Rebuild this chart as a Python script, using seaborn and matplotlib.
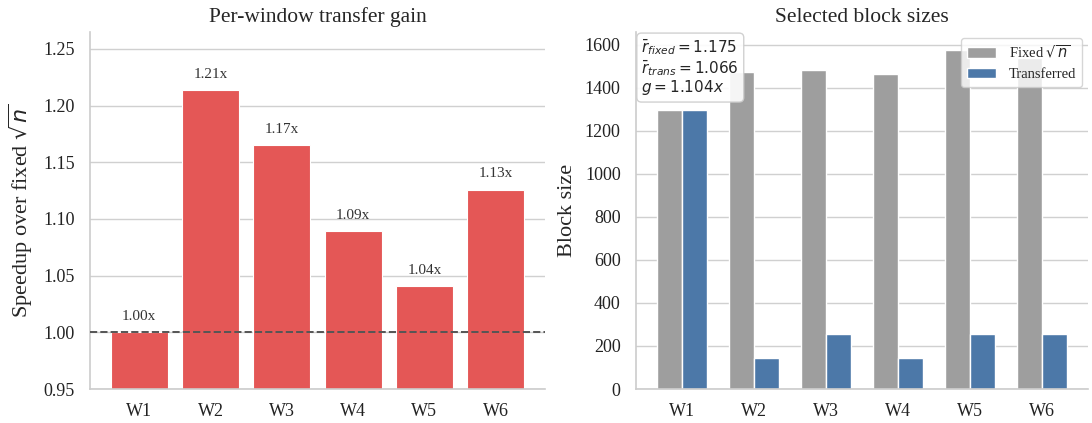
import numpy as np
import pandas as pd
import matplotlib
matplotlib.use("Agg")
import matplotlib.pyplot as plt
import seaborn as sns

# ---- data ----
windows = ["W1", "W2", "W3", "W4", "W5", "W6"]
speedup = [1.000, 1.214, 1.165, 1.089, 1.041, 1.126]
fixed_sizes = [1298, 1474, 1482, 1466, 1578, 1540]
transferred_sizes = [1298, 144, 256, 144, 256, 256]
series_names = ["Fixed $\\sqrt{n}$", "Transferred"]
stats_text = "$\\bar{r}_{fixed} = 1.175$\n$\\bar{r}_{trans} = 1.066$\n$g = 1.104x$"

RED = "#E45756"
GRAY = "#9E9E9E"
BLUE = "#4C78A8"

sns.set_theme(style="whitegrid")
plt.rcParams["font.family"] = ["Liberation Serif", "DejaVu Serif"]
plt.rcParams["mathtext.fontset"] = "dejavusans"
plt.rcParams["axes.edgecolor"] = "#cccccc"
plt.rcParams["grid.color"] = "#d0d0d0"

W, H = 1092, 423
fig = plt.figure(figsize=(W / 100, H / 100), dpi=100)
ax1 = fig.add_axes([90 / W, (H - 389) / H, 455 / W, 357 / H])
ax2 = fig.add_axes([636 / W, (H - 389) / H, 452 / W, 357 / H])

# ---- left panel ----
df1 = pd.DataFrame({"window": windows, "speedup": speedup})
sns.barplot(data=df1, x="window", y="speedup", color=RED, saturation=1,
            width=0.8, edgecolor="white", linewidth=0.8, ax=ax1)
ax1.axhline(1.0, color="#555555", linestyle="--", linewidth=1.4, zorder=3)
for i, v in enumerate(speedup):
    ax1.text(i, v + 0.008, f"{v:.2f}x", ha="center", va="bottom",
             fontsize=11, color="#333333")
ax1.set_ylim(0.95, 1.265)
ax1.set_xlim(-0.69, 5.69)
ax1.set_yticks(np.arange(0.95, 1.2501, 0.05))
ax1.set_yticklabels([f"{t:.2f}" for t in np.arange(0.95, 1.2501, 0.05)])
ax1.set_xlabel("")
ax1.set_ylabel("Speedup over fixed $\\sqrt{n}$", fontsize=16, labelpad=6)
ax1.set_title("Per-window transfer gain", fontsize=15.5, pad=7)

# ---- right panel ----
df2 = pd.DataFrame({
    "window": windows * 2,
    "size": fixed_sizes + transferred_sizes,
    "kind": [series_names[0]] * len(windows) + [series_names[1]] * len(windows),
})
sns.barplot(data=df2, x="window", y="size", hue="kind",
            palette={series_names[0]: GRAY, series_names[1]: BLUE},
            saturation=1, width=0.7, edgecolor="white", linewidth=1, ax=ax2)
ax2.set_ylim(0, 1660)
ax2.set_xlim(-0.635, 5.635)
ax2.set_yticks(np.arange(0, 1601, 200))
ax2.set_xlabel("")
ax2.set_ylabel("Block size", fontsize=16, labelpad=6)
ax2.set_title("Selected block sizes", fontsize=15.5, pad=7)
ax2.legend(loc="upper right", fontsize=10.5, frameon=True, framealpha=0.8,
           edgecolor="#cccccc", title=None, borderaxespad=0.4,
           handletextpad=0.9)
ax2.text(0.012, 0.985, stats_text, transform=ax2.transAxes, ha="left", va="top",
         fontsize=11, family="DejaVu Sans", linespacing=1.05,
         bbox=dict(boxstyle="round,pad=0.3", facecolor="white",
                   edgecolor="#cccccc", alpha=0.9), zorder=5)

for ax in (ax1, ax2):
    sns.despine(ax=ax)
    ax.tick_params(axis="both", length=0, labelsize=13, colors="#222222")
    ax.tick_params(axis="y", pad=11)
    ax.tick_params(axis="x", pad=10)
    ax.set_axisbelow(True)
    for s in ("left", "bottom"):
        ax.spines[s].set_color("#cccccc")
        ax.spines[s].set_linewidth(1.2)

fig.savefig("out.png", dpi=100)
